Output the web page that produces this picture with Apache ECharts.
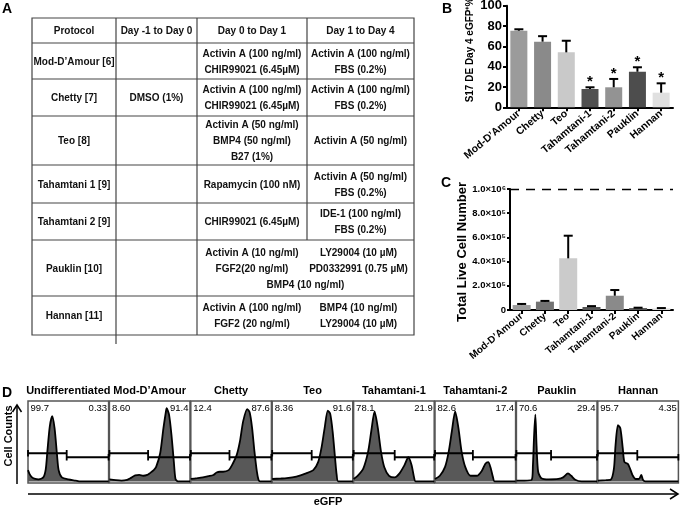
<!DOCTYPE html>
<html><head><meta charset="utf-8">
<script src="https://cdn.jsdelivr.net/npm/echarts@6/dist/echarts.min.js"></script>
<style>html,body{margin:0;padding:0;background:#fff}#c{width:680px;height:506px}</style>
</head><body><div id="c"></div>
<script>
// ===== Panel A: protocol table =====
const tableHeaders = ['Protocol', 'Day -1 to Day 0', 'Day 0 to Day 1', 'Day 1 to Day 4'];
const protocols = ['Mod-D’Amour [6]', 'Chetty [7]', 'Teo [8]', 'Tahamtani 1 [9]', 'Tahamtani 2 [9]', 'Pauklin [10]', 'Hannan [11]'];
const dayMinus1 = ['', 'DMSO (1%)', '', '', '', '', ''];
const day0to1 = [
  ['Activin A (100 ng/ml)', 'CHIR99021 (6.45µM)'],
  ['Activin A (100 ng/ml)', 'CHIR99021 (6.45µM)'],
  ['Activin A (50 ng/ml)', 'BMP4 (50 ng/ml)', 'B27 (1%)'],
  ['Rapamycin (100 nM)'],
  ['CHIR99021 (6.45µM)'],
  ['Activin A (10 ng/ml)', 'FGF2(20 ng/ml)'],
  ['Activin A (100 ng/ml)', 'FGF2 (20 ng/ml)']
];
const day1to4 = [
  ['Activin A (100 ng/ml)', 'FBS (0.2%)'],
  ['Activin A (100 ng/ml)', 'FBS (0.2%)'],
  ['Activin A (50 ng/ml)'],
  ['Activin A (50 ng/ml)', 'FBS (0.2%)'],
  ['IDE-1 (100 ng/ml)', 'FBS (0.2%)'],
  ['LY29004 (10 µM)', 'PD0332991 (0.75 µM)'],
  ['BMP4 (10 ng/ml)', 'LY29004 (10 µM)']
];
const mergedSpanText = ['', '', '', '', '', 'BMP4 (10 ng/ml)', ''];
const mergedRow = [false, false, false, false, false, true, true];

// ===== Panel B: S17 DE Day 4 eGFP+ % =====
const categories = ['Mod-D’Amour', 'Chetty', 'Teo', 'Tahamtani-1', 'Tahamtani-2', 'Pauklin', 'Hannan'];
const bValues = [75.4, 64.6, 54.1, 18.0, 19.7, 35.0, 14.4];
const bErr = [1.4, 5.4, 11.4, 1.7, 8.2, 4.4, 9.2];
const bSignificant = [false, false, false, true, true, true, true];
const bTickLabels = ['0', '20', '40', '60', '80', '100'];

// ===== Panel C: total live cell number =====
const cValues = [41000, 69000, 427000, 25000, 118000, 16000, 13000];
const cErr = [9000, 6000, 187000, 7000, 47000, 3000, 3000];
const cTickLabels = ['0', '2.0×10⁵', '4.0×10⁵', '6.0×10⁵', '8.0×10⁵', '1.0×10⁶'];
const cReference = 1000000;

// ===== Panel D: flow cytometry histograms =====
const flowTitles = ['Undifferentiated', 'Mod-D’Amour', 'Chetty', 'Teo', 'Tahamtani-1', 'Tahamtani-2', 'Pauklin', 'Hannan'];
const flowNeg = ['99.7', '8.60', '12.4', '8.36', '78.1', '82.6', '70.6', '95.7'];
const flowPos = ['0.33', '91.4', '87.6', '91.6', '21.9', '17.4', '29.4', '4.35'];
const gateSplit = [48, 48, 48, 49, 51, 47, 43, 49];
const gateNegLevel = 35;
const gatePosLevel = 30;
const histUndiff = [[0,14],[2,9],[5,5],[9,3],[13,2.5],[19,5],[22,15],[24,37],[27,68],[30,81],[33,66],[36,33],[38,14],[42,5],[50,2.5],[59,1],[65,0],[100,0]];
const histModDAmour = [[0,2.5],[8,1.5],[15,1],[22,2],[26,4],[32,7.5],[37,8],[42,7],[47,8],[50,10],[55,14],[58,18],[63,35],[67,66],[70,86],[71,91],[74,83],[77,58],[80,24],[82,3],[85,0],[100,0]];
const histChetty = [[0,3],[8,4],[15,5],[22,6.5],[28,8],[32,11],[36,12],[40,12],[47,14],[51,20],[57,33],[61,50],[65,75],[70,90],[73,86],[76,67],[79,37],[82,12],[84,2],[86,0],[100,0]];
const histTeo = [[0,3],[10,3.5],[18,4],[30,6],[42,10],[51,14],[57,24],[61,41],[65,66],[69,88],[72,84],[75,62],[78,29],[80,8],[82,0],[100,0]];
const histTah1 = [[0,3],[5,7],[12,16],[18,37],[22,63],[26,87],[30,67],[34,37],[38,18],[44,7],[51,5],[57,10],[63,20],[68,30],[72,20],[75,5],[77,0],[100,0]];
const histTah2 = [[0,3],[6,7],[12.5,18],[17,37],[21,63],[25,87],[29,67],[33,37],[37.5,18],[44,7],[52,7],[58,13],[62.5,22],[66,24],[69,17],[72,5],[74,0],[100,0]];
const histPauklin = [[0,1],[10,1],[19,2],[20.5,20],[22,58],[23.5,83],[25,45],[27,12],[31,4],[40,2.5],[52,3],[58,5],[64,10],[68,7],[73,2],[81,0],[100,0]];
const histHannan = [[0,1],[10,1.5],[16,2],[20,16],[22,45],[25,70],[28,66],[31,41],[33,24],[37,22],[40,16],[43,8],[47,3],[51,3],[54,8],[56,2],[59,0],[100,0]];
const histograms = [histUndiff, histModDAmour, histChetty, histTeo, histTah1, histTah2, histPauklin, histHannan];

// ===== styling =====
const FONT = '"Liberation Sans", Arial, Helvetica, sans-serif';
const bColors = ['#9b9b9b', '#8a8a8a', '#c9c9c9', '#505050', '#939393', '#4d4d4d', '#e0e0e0'];
const cColors = ['#9b9b9b', '#737373', '#cbcbcb', '#555555', '#8a8a8a', '#555555', '#dddddd'];

const graphics = [];
function addText(text, x, y, style, rotation) {
  graphics.push({ type: 'text', silent: true, x: x, y: y, rotation: rotation || 0, z: 10,
    style: Object.assign({ text: text, fill: '#111', fontFamily: FONT, fontWeight: 'bold', fontSize: 10,
      align: 'center', verticalAlign: 'middle' }, style || {}) });
}
function addLine(x1, y1, x2, y2, stroke, w) {
  graphics.push({ type: 'line', silent: true, z: 10, shape: { x1: x1, y1: y1, x2: x2, y2: y2 },
    style: { stroke: stroke || '#444', lineWidth: w || 1.2 } });
}
function addPoly(points, w) {
  graphics.push({ type: 'polyline', silent: true, z: 10, shape: { points: points },
    style: { stroke: '#000', fill: null, lineWidth: w || 1.5 } });
}

// ---- Table layout ----
const colX = [32, 116, 197, 307, 414];
const rowY = [18, 43, 79, 116, 165, 203, 240, 296, 335];
const lineGap = 16;
graphics.push({ type: 'rect', silent: true, z: 10, shape: { x: colX[0], y: rowY[0], width: colX[4] - colX[0], height: rowY[8] - rowY[0] },
  style: { fill: null, stroke: '#444', lineWidth: 1.2 } });
for (let r = 1; r < rowY.length - 1; r++) addLine(colX[0], rowY[r], colX[4], rowY[r]);
addLine(colX[1], rowY[0], colX[1], rowY[8] + 9);
addLine(colX[2], rowY[0], colX[2], rowY[8]);
addLine(colX[3], rowY[0], colX[3], rowY[6]);
const colC = [0, 1, 2, 3].map(i => (colX[i] + colX[i + 1]) / 2);
tableHeaders.forEach((h, i) => addText(h, colC[i], (rowY[0] + rowY[1]) / 2 + 0.5));
function stack(lines, cx, cy) {
  const n = lines.length;
  lines.forEach((t, k) => addText(t, cx, cy + (k - (n - 1) / 2) * lineGap));
}
protocols.forEach((p, r) => {
  const cy = (rowY[r + 1] + rowY[r + 2]) / 2 + 1;
  addText(p, colC[0], cy);
  if (dayMinus1[r]) addText(dayMinus1[r], colC[1], cy);
  if (!mergedRow[r]) {
    stack(day0to1[r], colC[2], cy);
    stack(day1to4[r], colC[3], cy);
  } else {
    const n = Math.max(day0to1[r].length, day1to4[r].length) + (mergedSpanText[r] ? 1 : 0);
    const y0 = cy - (n - 1) / 2 * lineGap;
    day0to1[r].forEach((t, k) => addText(t, colC[2], y0 + k * lineGap));
    day1to4[r].forEach((t, k) => addText(t, colC[3] - 2, y0 + k * lineGap));
    if (mergedSpanText[r]) addText(mergedSpanText[r], (colX[2] + colX[4]) / 2, y0 + (n - 1) * lineGap);
  }
});

// ---- Panel letters ----
addText('A', 7, 9, { fontSize: 14, fill: '#000' });
addText('B', 447, 9, { fontSize: 14, fill: '#000' });
addText('C', 446, 183, { fontSize: 14, fill: '#000' });
addText('D', 7, 393, { fontSize: 14, fill: '#000' });

// ---- Axis titles B and C ----
addText('S17 DE Day 4 eGFP⁺%', 470, 50, { fontSize: 10, fill: '#000' }, Math.PI / 2);
addText('Total Live Cell Number', 462, 252, { fontSize: 13, fill: '#000' }, Math.PI / 2);

// ---- Panel D layout ----
const D_LEFT0 = 28, D_STEP = 81.4, D_W = 80.6, D_TOP = 401, D_H = 82;
flowTitles.forEach((t, i) => {
  const l = D_LEFT0 + i * D_STEP;
  addText(t, l + D_W / 2, 391, { fontSize: 11, fill: '#000' });
  addText(flowNeg[i], l + 2.5, D_TOP + 2, { fontSize: 9.5, fontWeight: 'normal', fill: '#000', align: 'left', verticalAlign: 'top' });
  addText(flowPos[i], l + D_W - 1.5, D_TOP + 2, { fontSize: 9.5, fontWeight: 'normal', fill: '#000', align: 'right', verticalAlign: 'top' });
});
addText('Cell Counts', 9, 436, { fontSize: 11, fill: '#000' }, Math.PI / 2);
addPoly([[17, 484], [17, 406]], 1.5);
addPoly([[12.5, 412], [17, 405], [21.5, 412]], 1.5);
addPoly([[28, 494], [677, 494]], 1.5);
addPoly([[670, 489], [678, 494], [670, 499]], 1.5);
addText('eGFP', 328, 502, { fontSize: 11, fill: '#000' });

// ===== ECharts option =====
const grids = [], xAxes = [], yAxes = [], series = [];
// B
grids.push({ left: 507, top: 5.7, width: 166, height: 101.6 });
xAxes.push({ type: 'category', gridIndex: 0, data: categories,
  axisLine: { show: true, lineStyle: { color: '#000', width: 2 } },
  axisTick: { show: true, alignWithLabel: true, length: 4, lineStyle: { color: '#000', width: 2 } },
  axisLabel: { interval: 0, rotate: 40, margin: 5, color: '#000', fontFamily: FONT, fontWeight: 'bold', fontSize: 10.5 } });
yAxes.push({ type: 'value', gridIndex: 0, min: 0, max: 100, interval: 20,
  axisLine: { show: true, lineStyle: { color: '#000', width: 2 } },
  axisTick: { show: true, length: 4, lineStyle: { color: '#000', width: 2 } },
  splitLine: { show: false },
  axisLabel: { color: '#000', fontFamily: FONT, fontWeight: 'bold', fontSize: 13, margin: 5,
    formatter: (v) => bTickLabels[Math.round(v / 20)] } });
// C
grids.push({ left: 510, top: 189, width: 163, height: 121 });
xAxes.push({ type: 'category', gridIndex: 1, data: categories,
  axisLine: { show: true, lineStyle: { color: '#000', width: 2 } },
  axisTick: { show: true, alignWithLabel: true, length: 4, lineStyle: { color: '#000', width: 2 } },
  axisLabel: { interval: 0, rotate: 40, margin: 5, color: '#000', fontFamily: FONT, fontWeight: 'bold', fontSize: 10 } });
yAxes.push({ type: 'value', gridIndex: 1, min: 0, max: 1000000, interval: 200000,
  axisLine: { show: true, lineStyle: { color: '#000', width: 2 } },
  axisTick: { show: true, length: 3, lineStyle: { color: '#000', width: 2 } },
  splitLine: { show: false },
  axisLabel: { color: '#000', fontFamily: FONT, fontWeight: 'bold', fontSize: 9.5, margin: 4,
    formatter: (v) => cTickLabels[Math.round(v / 200000)] } });

function errSeries(idx, vals, errs) {
  return { type: 'custom', xAxisIndex: idx, yAxisIndex: idx, z: 5, silent: true,
    data: vals.map((v, i) => [i, v, v + errs[i]]),
    renderItem: (p, api) => {
      const base = api.coord([api.value(0), api.value(1)]);
      const top = api.coord([api.value(0), api.value(2)]);
      return { type: 'group', children: [
        { type: 'line', shape: { x1: base[0], y1: base[1], x2: top[0], y2: top[1] }, style: { stroke: '#000', lineWidth: 2 } },
        { type: 'line', shape: { x1: top[0] - 4.5, y1: top[1], x2: top[0] + 4.5, y2: top[1] }, style: { stroke: '#000', lineWidth: 2 } }
      ] };
    } };
}
series.push({ type: 'bar', xAxisIndex: 0, yAxisIndex: 0, barWidth: 17, silent: true,
  data: bValues.map((v, i) => ({ value: v, itemStyle: { color: bColors[i] } })) });
series.push(errSeries(0, bValues, bErr));
series.push({ type: 'custom', xAxisIndex: 0, yAxisIndex: 0, z: 6, silent: true,
  data: bValues.map((v, i) => bSignificant[i] ? [i, v + bErr[i]] : null).filter(d => d),
  renderItem: (p, api) => {
    const pt = api.coord([api.value(0), api.value(1)]);
    return { type: 'text', x: pt[0], y: pt[1] - 5, style: { text: '*', fontSize: 15, fontFamily: FONT, fontWeight: 'bold', fill: '#000', align: 'center', verticalAlign: 'middle' } };
  } });
series.push({ type: 'bar', xAxisIndex: 1, yAxisIndex: 1, barWidth: 18, silent: true,
  data: cValues.map((v, i) => ({ value: v, itemStyle: { color: cColors[i] } })),
  markLine: { silent: true, symbol: ['none', 'none'], label: { show: false },
    lineStyle: { color: '#000', width: 1.3, type: [9, 7] }, data: [{ yAxis: cReference }] } });
series.push(errSeries(1, cValues, cErr));

// D
histograms.forEach((h, i) => {
  const gi = 2 + i;
  grids.push({ left: D_LEFT0 + i * D_STEP, top: D_TOP, width: D_W, height: D_H, show: true,
    borderColor: '#555', borderWidth: 1.5, backgroundColor: 'transparent' });
  xAxes.push({ type: 'value', gridIndex: gi, min: 0, max: 100, show: false });
  yAxes.push({ type: 'value', gridIndex: gi, min: -2, max: 100, show: false });
  series.push({ type: 'line', xAxisIndex: gi, yAxisIndex: gi, data: h, symbol: 'none', smooth: 0.25, silent: true,
    lineStyle: { color: '#000', width: 1.8 }, areaStyle: { color: '#585858', opacity: 1 }, z: 3 });
  const s = gateSplit[i];
  series.push({ type: 'line', xAxisIndex: gi, yAxisIndex: gi, symbol: 'none', silent: true, z: 4,
    lineStyle: { color: '#000', width: 1.8 },
    data: [[0, gateNegLevel + 4], [0, gateNegLevel - 4], [0, gateNegLevel], [s, gateNegLevel], [s, gateNegLevel + 4],
      [s, gatePosLevel - 4], [s, gatePosLevel], [100, gatePosLevel], [100, gatePosLevel + 4], [100, gatePosLevel - 4]] });
});
grids.forEach(g => { g.containLabel = false; g.outerBoundsMode = 'none'; });

const chart = echarts.init(document.getElementById('c'), null, { renderer: 'canvas', width: 680, height: 506 });
chart.setOption({ animation: false, backgroundColor: '#fff', grid: grids, xAxis: xAxes, yAxis: yAxes, series: series, graphic: graphics });
</script>
</body></html>
